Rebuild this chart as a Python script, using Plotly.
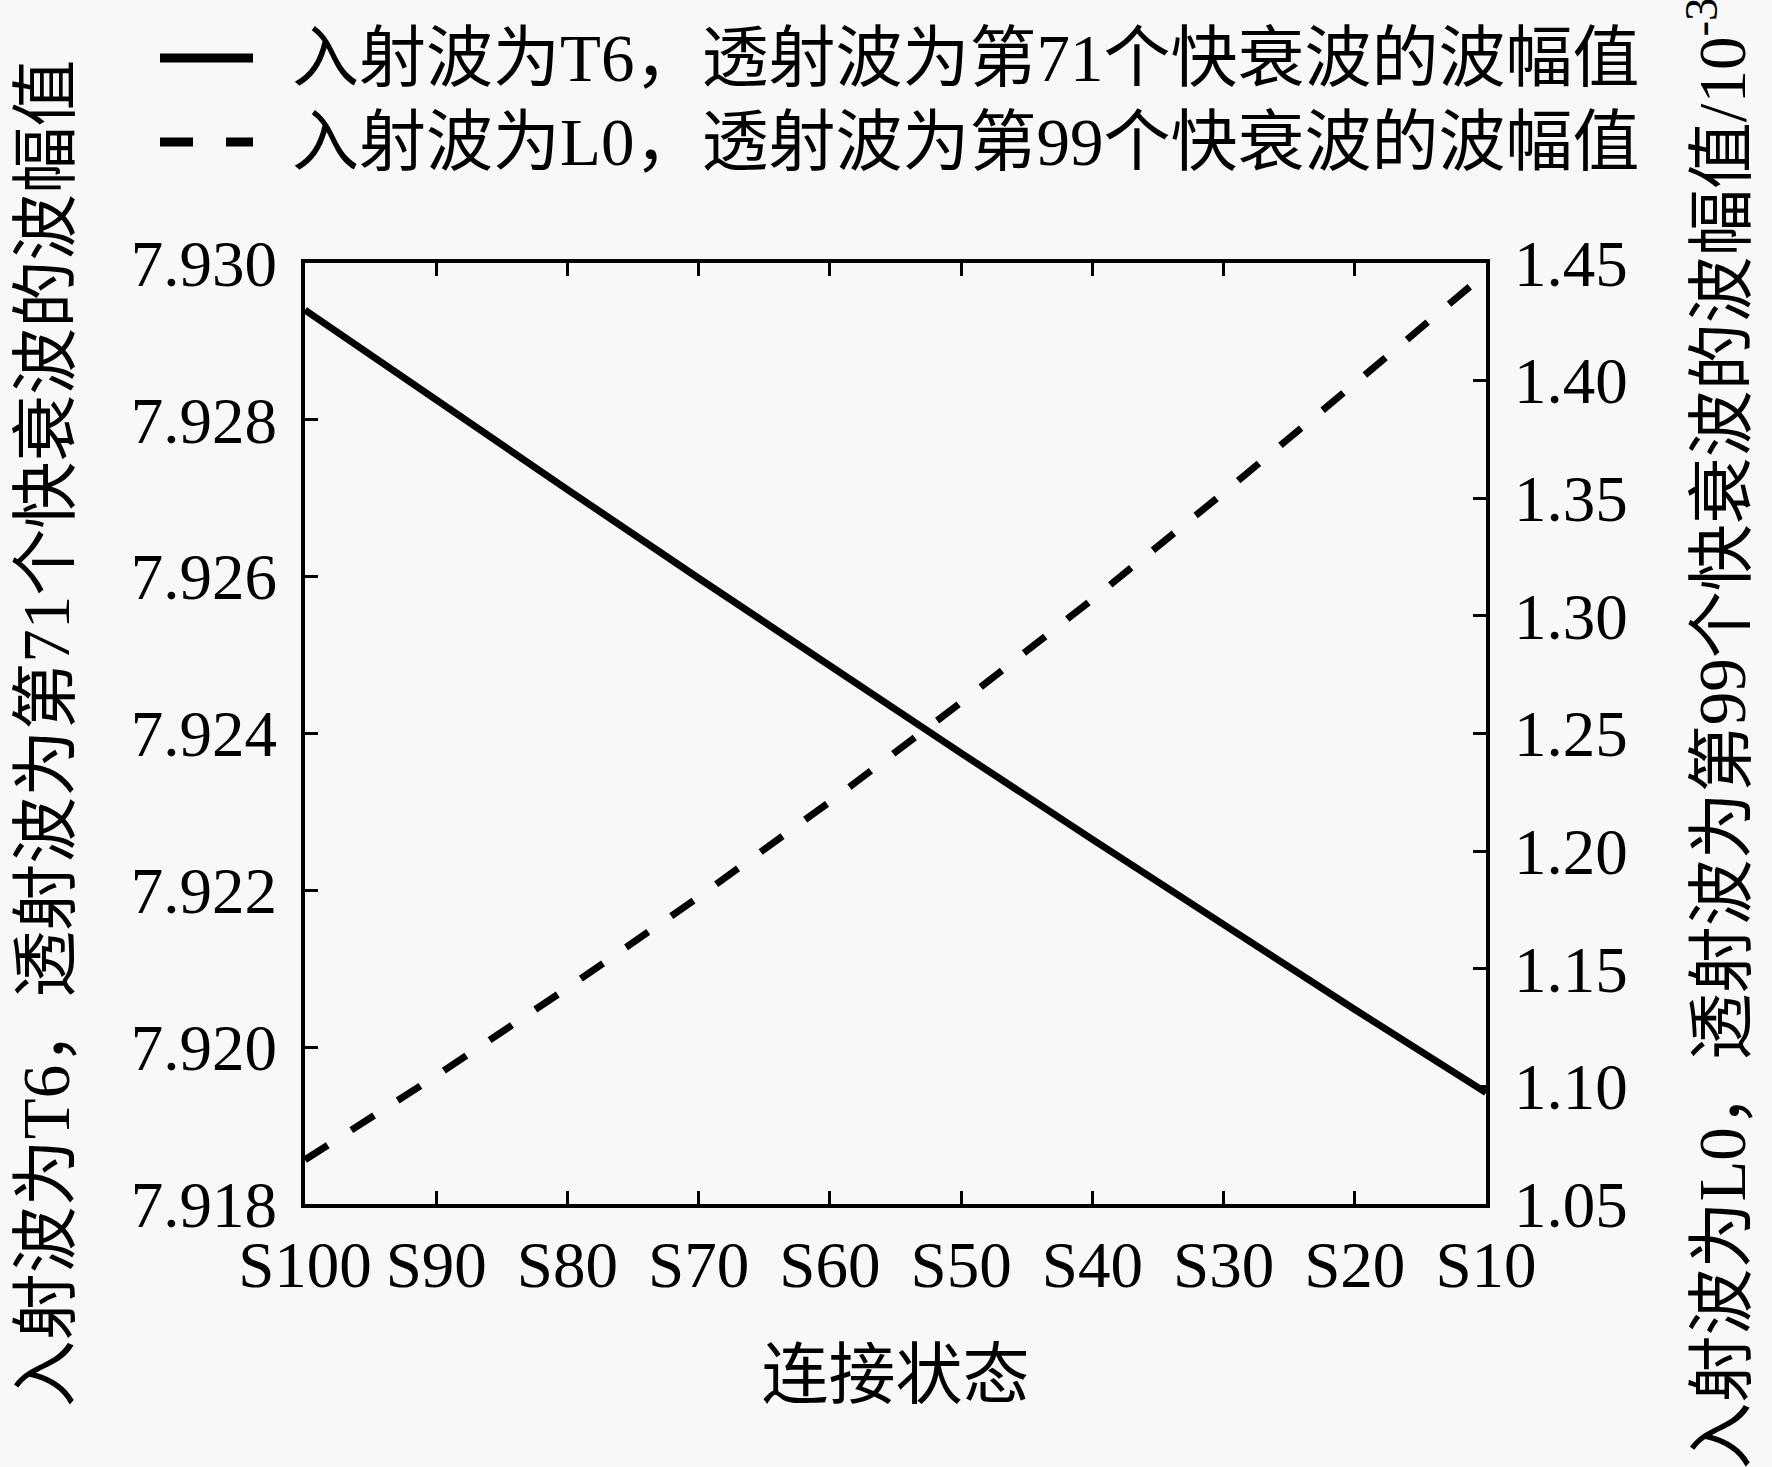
import plotly.graph_objects as go

# connection states, from S100 down to S10
states = ["S100", "S90", "S80", "S70", "S60", "S50", "S40", "S30", "S20", "S10"]

# amplitude of the 71st fast-decaying wave, incident T6 (left axis)
amp_t6 = [7.92940, 7.92825, 7.92711, 7.92598, 7.92486,
          7.92375, 7.92265, 7.92156, 7.92048, 7.91942]

# amplitude of the 99th fast-decaying wave, incident L0 (right axis, 1e-3)
amp_l0 = [1.0688, 1.1045, 1.1418, 1.1805, 1.2210,
          1.2632, 1.3070, 1.3523, 1.3988, 1.4457]

name_t6 = "入射波为T6，透射波为第71个快衰波的波幅值"
name_l0 = "入射波为L0，透射波为第99个快衰波的波幅值"

W, H = 1772, 1467
ML, MR, MT, MB = 305, 286, 263, 263
PW, PH = W - ML - MR, H - MT - MB

FONT = "Liberation Serif, 'Noto Sans CJK SC', serif"
BG = "#f8f8f8"
TXT = 67


def px_x(p):
    return (p - ML) / PW


def px_y(p):
    return (H - MB - p) / PH


fig = go.Figure()
fig.add_trace(go.Scatter(x=states, y=amp_t6, mode="lines", name=name_t6,
                         line=dict(color="black", width=7), yaxis="y"))
fig.add_trace(go.Scatter(x=states, y=amp_l0, mode="lines", name=name_l0,
                         line=dict(color="black", width=7, dash="27px,28px"),
                         yaxis="y2"))

axis_common = dict(showline=True, linecolor="black", linewidth=4,
                   ticks="inside", ticklen=13, tickwidth=3, tickcolor="black",
                   showgrid=False, zeroline=False,
                   tickfont=dict(family=FONT, size=65, color="black"))

fig.update_layout(
    width=W, height=H,
    margin=dict(l=ML, r=MR, t=MT, b=MB),
    paper_bgcolor=BG, plot_bgcolor=BG,
    showlegend=False,
    font=dict(family=FONT, size=TXT, color="black"),
    xaxis=dict(type="category", categoryorder="array", categoryarray=states,
               range=[0, len(states) - 1], mirror="ticks",
               ticklabelstandoff=1,
               title=dict(text="连接状态", standoff=52,
                          font=dict(family=FONT, size=TXT)),
               **axis_common),
    yaxis=dict(range=[7.918, 7.930], dtick=0.002, tickformat=".3f",
               mirror=True, ticklabelstandoff=11,
               title=dict(text=name_t6, standoff=40,
                          font=dict(family=FONT, size=TXT)),
               **axis_common),
    yaxis2=dict(range=[1.05, 1.45], dtick=0.05, tickformat=".2f",
                overlaying="y", side="right", ticklabelstandoff=11,
                title=dict(text=name_l0 + "/10<sup>-3</sup>", standoff=72,
                           font=dict(family=FONT, size=TXT)),
                **axis_common),
)

# legend drawn by hand: line samples and labels above the plot
legend_rows = [(name_t6, "solid", 58), (name_l0, "33px,33px", 142)]
for label, dash, yy in legend_rows:
    fig.add_shape(type="line", xref="paper", yref="paper",
                  x0=px_x(160), x1=px_x(253), y0=px_y(yy), y1=px_y(yy),
                  line=dict(color="black", width=9, dash=dash))
    fig.add_annotation(text=label, xref="paper", yref="paper",
                       x=px_x(290), y=px_y(yy), xanchor="left", yanchor="middle",
                       showarrow=False, font=dict(family=FONT, size=TXT))

fig.write_html("out.html", config={"displayModeBar": False},
               post_script="document.body.style.margin='0';")
